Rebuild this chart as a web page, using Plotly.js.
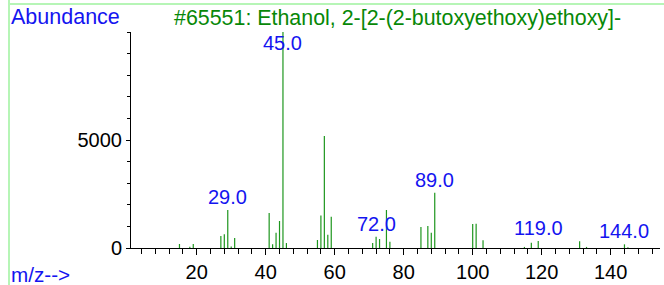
<!DOCTYPE html>
<html>
<head>
<meta charset="utf-8">
<script src="https://cdn.plot.ly/plotly-3.0.1.min.js"></script>
<style>html,body{margin:0;padding:0;background:#fff;}#chart{width:664px;height:285px;}</style>
</head>
<body>
<div id="chart"></div>
<script>
// ---- data ----
const mz = [15, 18, 19, 27, 28, 29, 30, 31, 41, 42, 43, 44, 45, 46, 55, 56, 57, 58, 59,
            71, 72, 73, 75, 76, 85, 87, 88, 89, 100, 101, 103, 115, 117, 119, 131, 133, 144, 145];
const abundance = [185, 60, 185, 555, 635, 1760, 70, 463, 1620, 170, 710, 1250, 9999, 230, 370, 1500, 5190, 615, 1450,
            230, 525, 415, 1760, 290, 970, 1020, 710, 2560, 1110, 1125, 355, 50, 245, 325, 310, 50, 170, 30];
const labeledPeaks = [29, 45, 72, 89, 119, 144];
const xTicks = [20, 40, 60, 80, 100, 120, 140];
const yTicks = [0, 5000];
const titleText = "#65551: Ethanol, 2-[2-(2-butoxyethoxy)ethoxy]-";
const yLabel = "Abundance";
const xLabel = "m/z-->";

// ---- layout geometry ----
const W = 664, H = 285;
const M = {l: 131, r: 4, t: 32, b: 37};
const PW = W - M.l - M.r, PH = H - M.t - M.b;
const px = x => (x - M.l) / PW;
const py = y => (H - M.b - y) / PH;

// stick spectrum as one line trace with gaps
const sx = [], sy = [];
mz.forEach((m, i) => { sx.push(m, m, null); sy.push(0, abundance[i], null); });

const trace = {
  x: sx, y: sy, type: 'scatter', mode: 'lines',
  line: {color: '#1e961e', width: 1.2},
  hoverinfo: 'skip', showlegend: false, connectgaps: false
};

const blue = '#1414f0';
const green = '#078807';
const fontFam = 'Liberation Sans, Arial, sans-serif';

const annotations = [];
labeledPeaks.forEach(p => {
  const h = abundance[mz.indexOf(p)];
  annotations.push({
    x: p, y: Math.min(h, 8900), xref: 'x', yref: 'y',
    text: p.toFixed(1), showarrow: false, xanchor: 'center', yanchor: 'bottom',
    font: {family: fontFam, size: 20, color: blue}
  });
});
annotations.push({x: px(9), y: py(17), xref: 'paper', yref: 'paper', text: yLabel, showarrow: false,
  xanchor: 'left', yanchor: 'middle', font: {family: fontFam, size: 21.5, color: blue}});
annotations.push({x: px(397), y: py(18), xref: 'paper', yref: 'paper', text: titleText, showarrow: false,
  xanchor: 'center', yanchor: 'middle', font: {family: fontFam, size: 21.4, color: green}});
annotations.push({x: px(9), y: py(274), xref: 'paper', yref: 'paper', text: xLabel, showarrow: false,
  xanchor: 'left', yanchor: 'middle', font: {family: fontFam, size: 20.7, color: blue}});

const frame = '#b6f5b6';
const layout = {
  width: W, height: H,
  margin: M,
  paper_bgcolor: '#fff', plot_bgcolor: '#fff',
  showlegend: false,
  xaxis: {
    range: [0.95, 154.3], showgrid: false, zeroline: false,
    showline: true, linecolor: '#000', linewidth: 1,
    tickmode: 'array', tickvals: xTicks, ticktext: xTicks.map(String),
    ticks: 'outside', ticklen: 6, tickwidth: 1, tickcolor: '#000',
    tickfont: {family: fontFam, size: 20, color: '#000'},
    minor: {dtick: 4, tick0: 0, ticks: 'outside', ticklen: 5, tickwidth: 1, tickcolor: '#000', showgrid: false}
  },
  yaxis: {
    range: [0, 10000], showgrid: false, zeroline: false,
    showline: true, linecolor: '#000', linewidth: 1,
    tickmode: 'array', tickvals: yTicks, ticktext: yTicks.map(String),
    ticks: 'outside', ticklen: 4, tickwidth: 1, tickcolor: '#000',
    tickfont: {family: fontFam, size: 20, color: '#000'},
    minor: {dtick: 1000, tick0: 0, ticks: 'outside', ticklen: 3, tickwidth: 1, tickcolor: '#000', showgrid: false}
  },
  annotations: annotations,
  shapes: [
    {type: 'line', xref: 'paper', yref: 'paper', x0: px(9), x1: px(664), y0: py(4), y1: py(4), line: {color: frame, width: 2}},
    {type: 'line', xref: 'paper', yref: 'paper', x0: px(9), x1: px(9), y0: py(0), y1: py(285), line: {color: frame, width: 2}}
  ]
};

Plotly.newPlot('chart', [trace], layout, {staticPlot: true, displayModeBar: false});
</script>
</body>
</html>
